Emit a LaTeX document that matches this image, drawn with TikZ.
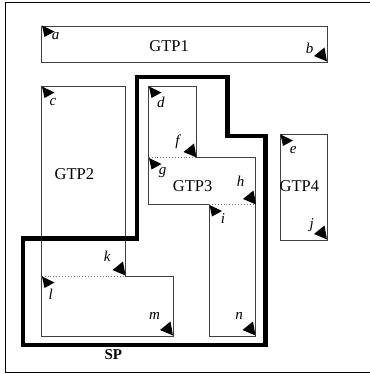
\documentclass[tikz,border=0pt]{standalone}
\usepackage{fontspec}
\setmainfont{Liberation Serif}
\begin{document}
\begin{tikzpicture}[x=1pt,y=-1pt,
  thinline/.style={draw=black!75,line width=0.9pt},
  dotline/.style={draw=black!55,line width=0.9pt,dotted},
  spline/.style={draw=black,line width=4.5pt,line join=miter},
  lbl/.style={inner sep=0pt,font=\fontsize{15}{17}\selectfont\itshape},
  gtp/.style={inner sep=0pt,font=\fontsize{16.5}{18}\selectfont}]
\useasboundingbox (0,0) rectangle (369,374);
\draw[black,line width=1pt] (5,2.7) rectangle (375,372);
% GTP1
\draw[thinline] (41.7,26.7) rectangle (327.3,62);
% GTP2
\draw[thinline] (41.7,86) -- (125.7,86) -- (125.7,276) -- (173,276) -- (173,336) -- (41.7,336) -- cycle;
\draw[dotline] (41.7,276) -- (125.7,276);
% GTP3
\draw[thinline] (148.7,86) -- (196.7,86) -- (196.7,157.7) -- (255.7,157.7) -- (255.7,336) -- (209,336) -- (209,204.7) -- (148.7,204.7) -- cycle;
\draw[dotline] (148.7,157.7) -- (196.7,157.7);
\draw[dotline] (209,204.7) -- (257,204.7);
% GTP4
\draw[thinline] (280,134) rectangle (327,240);
% SP
\draw[spline] (137,77) -- (227.3,77) -- (227.3,136) -- (265.5,136) -- (265.5,345) -- (23,345) -- (23,238.7) -- (137,238.7) -- cycle;
% start markers
\foreach \cx/\cy in {42/25.5, 42/86.5, 149/86.5, 280.5/134.5, 149/158, 209.5/205, 42/276.5}{
  \fill[black] (\cx,\cy) -- ++(12.5,6) -- ++(-10,5.5) -- cycle;
}
% end markers
\foreach \cx/\cy in {327/61.5, 196.5/157.5, 256/204.5, 327/239.5, 125.5/275.5, 173/335.5, 255.5/335.5}{
  \fill[black] (\cx,\cy) -- ++(-2.5,-14) -- ++(-10.5,8.5) -- cycle;
}
% labels
\node[lbl] (la) at (55.5,36) {a};
\node[lbl] (lb) at (309.7,48) {b};
\node[lbl] (lc) at (53,102) {c};
\node[lbl] (ld) at (160.8,102) {d};
\node[lbl] (le) at (293.3,150) {e};
\node[lbl] (lf) at (177.5,141.7) {f};
\node[lbl] (lg) at (162.7,173) {g};
\node[lbl] (lh) at (240.5,181.3) {h};
\node[lbl] (li) at (223,218.7) {i};
\node[lbl] (lj) at (311.7,225) {j};
\node[lbl] (lk) at (107.2,255.8) {k};
\node[lbl] (ll) at (50.8,294.2) {l};
\node[lbl] (lm) at (154.5,315.8) {m};
\node[lbl] (ln) at (239.2,315.8) {n};
\node[gtp] (g1) at (169.2,45.8) {GTP1};
\node[gtp] (g2) at (74.3,174.2) {GTP2};
\node[gtp] (g3) at (192.7,185.8) {GTP3};
\node[gtp] (g4) at (299.3,185.8) {GTP4};
\node[gtp,font=\fontsize{15}{17}\selectfont\bfseries] (sp) at (113.3,355) {SP};
\end{tikzpicture}
\end{document}
